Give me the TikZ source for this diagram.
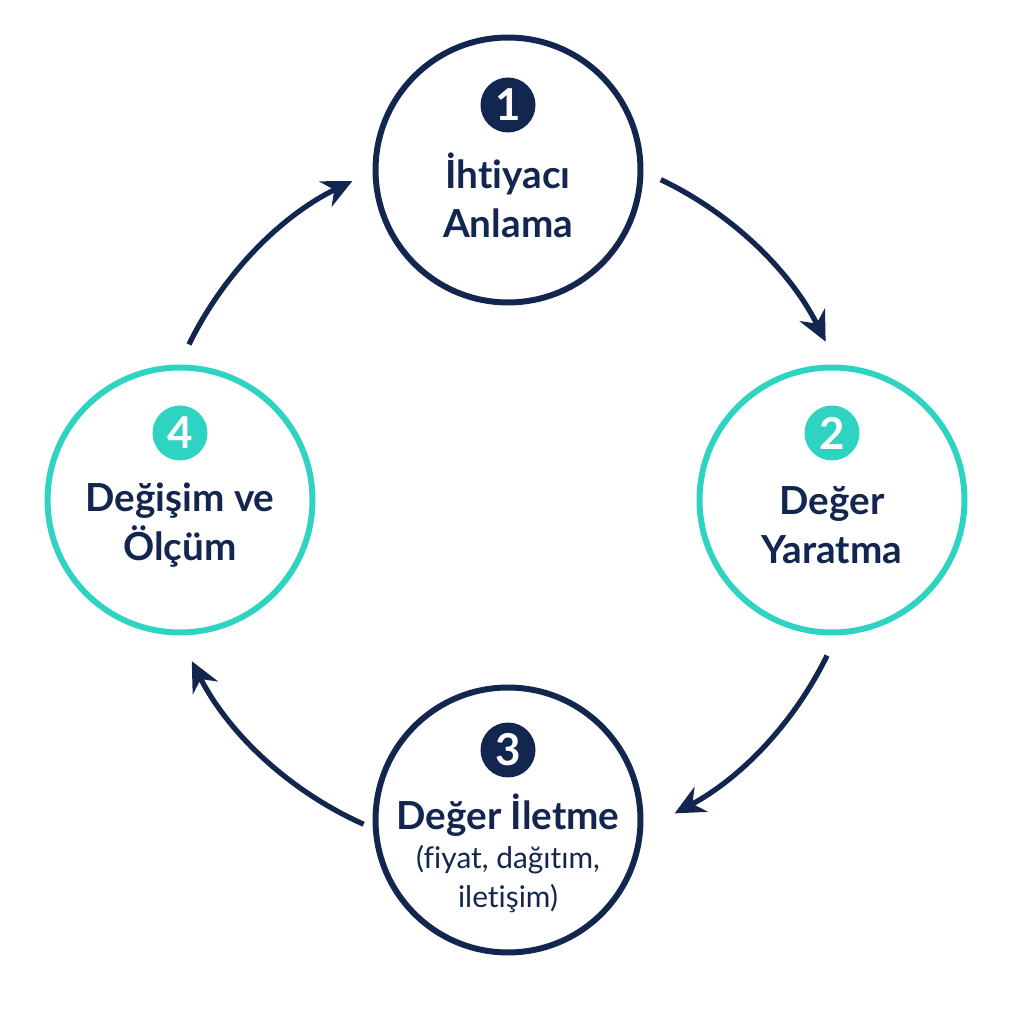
\documentclass[tikz,border=0pt]{standalone}
\usepackage{fontspec}
\setmainfont{Lato}[Ligatures=NoCommon]
\usetikzlibrary{arrows.meta}
\definecolor{navy}{HTML}{13264F}
\definecolor{teal}{HTML}{2ED3C2}
\begin{document}
\begin{tikzpicture}[x=0.02cm,y=0.02cm,
  big/.style={circle,draw,line width=3.4pt,minimum size=5.3cm,inner sep=0pt},
  badge/.style={circle,fill,text=white,minimum size=1.1cm,inner sep=0pt,font=\fontsize{25}{25}\selectfont\bfseries},
  lab/.style={text=navy,align=center,font=\fontsize{22}{28}\selectfont\bfseries},
  sub/.style={text=navy,align=center,font=\fontsize{17}{22}\selectfont},
  arr/.style={draw=navy,line width=3pt,-{Stealth[length=17pt,width=16pt]}}]
\useasboundingbox (0,0) rectangle (1024,1024);
\node[big,draw=navy] (c1) at (508,854) {};
\node[big,draw=teal] (c2) at (832,524) {};
\node[big,draw=navy] (c3) at (508,204) {};
\node[big,draw=teal] (c4) at (180,524) {};
\node[badge,fill=navy] (b1) at (508,919) {1};
\node[badge,fill=teal] (b2) at (832,591) {2};
\node[badge,fill=navy] (b3) at (508,274) {3};
\node[badge,fill=teal] (b4) at (180,591) {4};
\node[lab] (t1) at (508,829) {İhtiyacı\\Anlama};
\node[lab] (t2) at (832,499) {Değer\\Yaratma};
\node[lab] (t3) at (508,209) {Değer İletme};
\node[sub] (s3) at (508,145) {(fiyat, dağıtım,\\iletişim)};
\node[lab] (t4) at (180,499) {Değişim ve\\Ölçüm};
\coordinate (o) at (508,524);
\draw[arr] ([shift={(o)}]64.5:7.1cm) arc[start angle=64.5,end angle=26.5,radius=7.1cm];
\draw[arr] ([shift={(o)}]-26:7.1cm) arc[start angle=-26,end angle=-62,radius=7.1cm];
\draw[arr] ([shift={(o)}]-114:7.1cm) arc[start angle=-114,end angle=-153,radius=7.1cm];
\draw[arr] ([shift={(o)}]154:7.1cm) arc[start angle=154,end angle=116,radius=7.1cm];
\end{tikzpicture}
\end{document}
